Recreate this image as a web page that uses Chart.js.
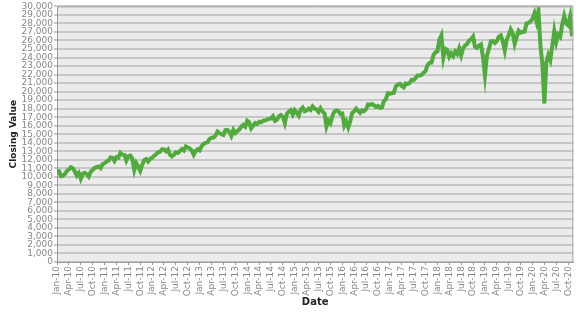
<!DOCTYPE html>
<html>
<head>
<meta charset="utf-8">
<script src="https://cdn.jsdelivr.net/npm/chart.js@4/dist/chart.umd.min.js"></script>
<style>
  body { margin: 0; background: #fff; }
  #wrap { width: 580px; height: 312px; }
</style>
</head>
<body>
<div id="wrap"><canvas id="dow-chart"></canvas></div>
<script>
// closing values, one every half month starting 1 Jan 2010 (x = months since Jan 2010)
const closes = [
  10580,
  // 2010
  10650, 10070, 10100, 10330, 10700, 10860, 11120, 11010, 10620, 10140, 10450, 9780,
  10360, 10470, 10300, 10020, 10600, 10790, 11060, 11120, 11200, 11010, 11500, 11580,
  // 2011
  11800, 11890, 12270, 12230, 11860, 12320, 12260, 12810, 12600, 12570, 11900, 12410,
  12480, 12140, 10800, 11610, 11200, 10700, 11400, 11960, 12080, 11800, 12100, 12220,
  // 2012
  12480, 12630, 12880, 12950, 13230, 13210, 13000, 13210, 12600, 12390, 12570, 12880,
  12800, 13010, 13250, 13090, 13560, 13440, 13340, 13100, 12590, 13030, 13235, 13100,
  // 2013
  13600, 13860, 13980, 14050, 14450, 14580, 14600, 14840, 15300, 15120, 15000, 14910,
  15470, 15500, 15300, 14810, 15500, 15130, 15370, 15550, 15900, 16090, 15880, 16580,
  // 2014
  16400, 15700, 16000, 16320, 16200, 16460, 16400, 16580, 16600, 16720, 16800, 16830,
  17100, 16560, 16700, 17100, 17250, 17040, 16300, 17390, 17650, 17830, 17300, 17820,
  // 2015
  17500, 17170, 17900, 18130, 17700, 17780, 18000, 17840, 18270, 18010, 17900, 17620,
  18050, 17690, 17450, 15900, 16600, 16280, 17150, 17660, 17800, 17720, 17400, 17430,
  // 2016
  16000, 16470, 15800, 16520, 17500, 17690, 18000, 17770, 17500, 17790, 17700, 17930,
  18500, 18430, 18550, 18400, 18200, 18310, 18100, 18140, 18900, 19120, 19800, 19760,
  // 2017
  19800, 19860, 20600, 20810, 20900, 20660, 20500, 20940, 20900, 21010, 21400, 21350,
  21600, 21890, 21900, 21950, 22200, 22410, 23100, 23380, 23400, 24270, 24600, 24720,
  // 2018
  26100, 26600, 24000, 25030, 24900, 24100, 24500, 24160, 24700, 24420, 25100, 24270,
  25100, 25420, 25600, 25970, 26150, 26460, 25250, 25120, 25400, 25540, 24100, 21900,
  // 2019
  24200, 25000, 25900, 25920, 25700, 25930, 26450, 26590, 25900, 24820, 26100, 26600,
  27300, 26860, 25600, 26400, 27150, 26920, 27000, 27050, 28000, 28050, 28250, 28540,
  // 2020
  29200, 28260, 29500, 25400, 23200, 18600, 23500, 24300, 23700, 25380, 27100, 25810,
  26700, 26430, 27900, 28900, 28000, 27780, 28800, 26500
];

const tickMonths = ['Jan', 'Apr', 'Jul', 'Oct'];
const firstYear = 10;
const lastTickMonth = 129;   // Oct-20
const yMax = 30000;
const yStep = 1000;

const points = closes.map((v, i) => ({ x: i / 2, y: v }));

const plotFrame = {
  id: 'plotFrame',
  beforeDraw(chart) {
    const { ctx, chartArea: a } = chart;
    ctx.save();
    ctx.fillStyle = '#ebebeb';
    ctx.fillRect(a.left, a.top, a.right - a.left, a.bottom - a.top);
    ctx.restore();
  },
  afterDraw(chart) {
    const { ctx, chartArea: a } = chart;
    ctx.save();
    ctx.strokeStyle = '#a8a8a8';
    ctx.lineWidth = 1;
    ctx.beginPath();
    ctx.moveTo(a.left, a.top + 0.5);
    ctx.lineTo(a.right - 0.5, a.top + 0.5);
    ctx.lineTo(a.right - 0.5, a.bottom);
    ctx.stroke();
    ctx.restore();
  }
};

new Chart(document.getElementById('dow-chart'), {
  type: 'line',
  data: {
    datasets: [{
      label: 'Closing Value',
      data: points,
      borderColor: '#50ab3c',
      borderWidth: 4,
      pointRadius: 0,
      tension: 0
    }]
  },
  options: {
    responsive: true,
    maintainAspectRatio: false,
    animation: false,
    layout: { padding: { top: 4, right: 4, left: 0, bottom: 0 } },
    plugins: {
      legend: { display: false },
      tooltip: { enabled: false }
    },
    scales: {
      x: {
        type: 'linear',
        min: 0,
        max: 130.3,
        afterBuildTicks(scale) {
          const ticks = [];
          for (let m = 0; m <= lastTickMonth; m += 3) ticks.push({ value: m });
          scale.ticks = ticks;
        },
        afterFit(scale) { scale.height = 50; },
        ticks: {
          autoSkip: false,
          minRotation: 90,
          maxRotation: 90,
          padding: 1,
          color: '#888',
          font: { family: 'DejaVu Sans', size: 9 },
          callback: (v) => tickMonths[(v / 3) % 4] + '-' + (firstYear + Math.floor(v / 12))
        },
        grid: { drawOnChartArea: false, tickLength: 3, color: '#999' },
        border: { color: '#999' },
        title: {
          display: true,
          text: 'Date',
          color: '#222',
          font: { family: 'DejaVu Sans', size: 10, weight: 'bold' },
          padding: { top: 0, bottom: 4 }
        }
      },
      y: {
        min: 0,
        max: yMax,
        afterFit(scale) { scale.width = 57; },
        ticks: {
          stepSize: yStep,
          autoSkip: false,
          padding: 1,
          color: '#888',
          font: { family: 'DejaVu Sans', size: 9 }
        },
        grid: { color: '#c6c6c6', lineWidth: 2, tickLength: 3 },
        border: { color: '#999' },
        title: {
          display: true,
          text: 'Closing Value',
          color: '#222',
          font: { family: 'DejaVu Sans', size: 9, weight: 'bold' },
          padding: { top: 8, bottom: 0 }
        }
      }
    }
  },
  plugins: [plotFrame]
});
</script>
</body>
</html>
